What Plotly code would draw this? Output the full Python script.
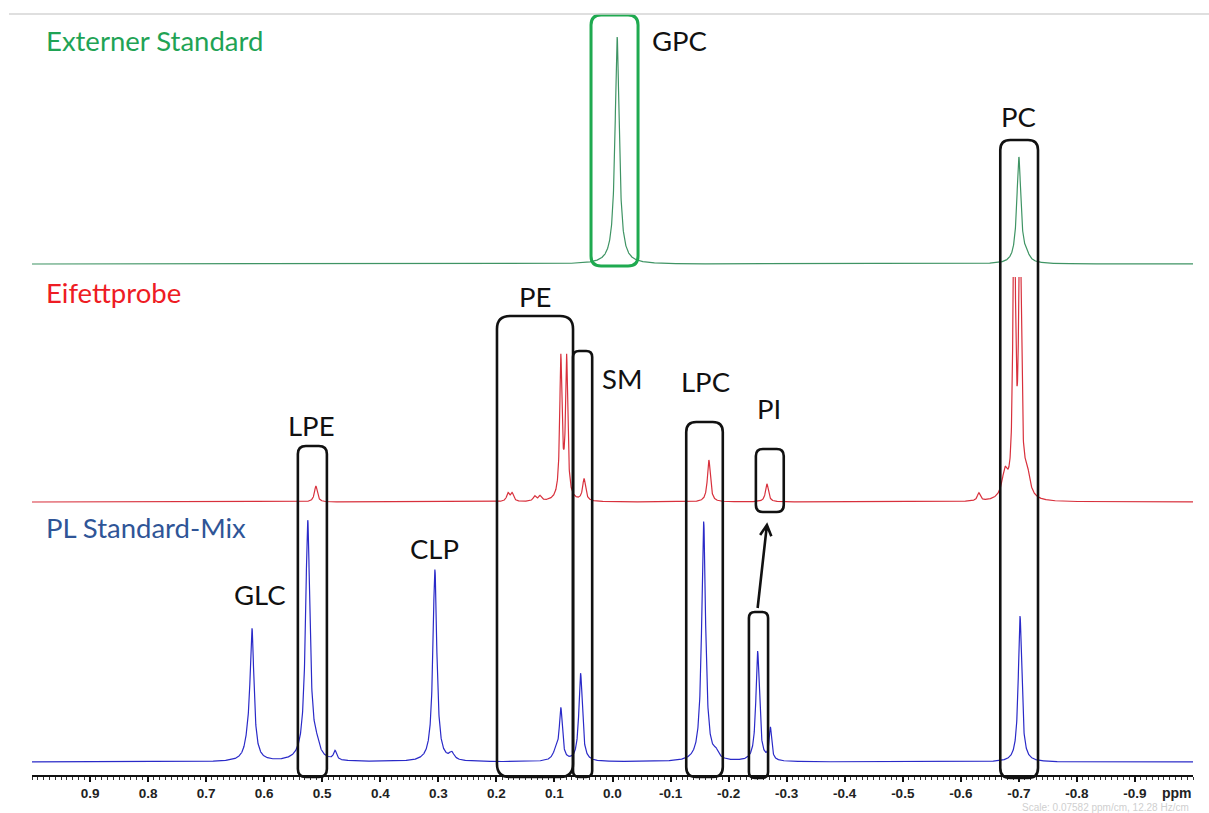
import numpy as np
import plotly.graph_objects as go

# ---------------------------------------------------------------------------
# Axis
# ---------------------------------------------------------------------------
PPM_MAX, PPM_MIN = 1.0, -1.0          # chemical shift runs high -> low
Y_MAX = 775                           # intensity range of the stacked plot
TICK_VALUES = [0.9, 0.8, 0.7, 0.6, 0.5, 0.4, 0.3, 0.2, 0.1, 0.0,
               -0.1, -0.2, -0.3, -0.4, -0.5, -0.6, -0.7, -0.8, -0.9]
TICK_LABELS = ["0.9", "0.8", "0.7", "0.6", "0.5", "0.4", "0.3", "0.2", "0.1", "0.0",
               "-0.1", "-0.2", "-0.3", "-0.4", "-0.5", "-0.6", "-0.7", "-0.8", "-0.9"]

# ---------------------------------------------------------------------------
# Spectra: baseline offset + peak list (position ppm, height, half width ppm)
# ---------------------------------------------------------------------------
STANDARD_OFFSET = 511
STANDARD_PPM = [-0.008, -0.008, -0.700, -0.713]
STANDARD_HEIGHT = [221, 6, 106, 6]
STANDARD_HWHM = [0.0042, 0.012, 0.0042, 0.006]

SAMPLE_OFFSET = 273
SAMPLE_CEILING = 225                  # display ceiling above the sample baseline
SAMPLE_PPM = [0.511, 0.180, 0.173, 0.134, 0.125,
              0.089, 0.079, 0.084, 0.049,
              -0.166, -0.266, -0.631,
              -0.692, -0.702, -0.676, -0.714]
SAMPLE_HEIGHT = [16, 8, 8, 5, 5,
                 136, 136, 8, 22,
                 42, 18, 8,
                 371, 371, 26, 24]
SAMPLE_HWHM = [0.003, 0.003, 0.003, 0.003, 0.003,
               0.0022, 0.0022, 0.008, 0.003,
               0.003, 0.003, 0.003,
               0.0021, 0.0021, 0.006, 0.006]

MIX_OFFSET = 13
MIX_PPM = [0.621, 0.628, 0.525, 0.510, 0.478,
           0.306, 0.277, 0.097, 0.089, 0.055,
           -0.157, -0.178, -0.250, -0.272, -0.702]
MIX_HEIGHT = [128, 12, 240, 10, 9,
              192, 7, 10, 50, 88,
              240, 6, 110, 32, 146]
MIX_HWHM = [0.0040, 0.006, 0.0045, 0.006, 0.003,
            0.0040, 0.005, 0.006, 0.003, 0.0035,
            0.0040, 0.005, 0.0035, 0.0025, 0.0035]

# ---------------------------------------------------------------------------
# Text labels and highlight boxes
# ---------------------------------------------------------------------------
SERIES_NAMES = ["Externer Standard", "Eifettprobe", "PL Standard-Mix"]
SERIES_LABEL_Y = [735, 483, 248]
SERIES_LABEL_PPM = 0.980

PEAK_NAMES = ["GPC", "PC", "PE", "SM", "LPE", "LPC", "PI", "CLP", "GLC"]
PEAK_NAME_PPM = [-0.116, -0.700, 0.134, -0.016, 0.518, -0.161, -0.270, 0.306, 0.607]
PEAK_NAME_Y = [735, 659, 479, 397, 350, 394, 367, 227, 181]

# box: left ppm, right ppm, bottom, top
BOX_LEFT = [0.037, -0.668, 0.199, 0.068, 0.542, -0.127, -0.247, -0.235]
BOX_RIGHT = [-0.044, -0.733, 0.068, 0.035, 0.492, -0.190, -0.295, -0.268]
BOX_BOTTOM = [509, -3, -2, -2, -2, -2, 263, -3]
BOX_TOP = [760, 635, 459, 424, 329, 353, 326, 163]
BOX_COLOR = ["#1faa50"] + ["#111111"] * 7
BOX_RADIUS_PX = [10, 10, 13, 6, 8, 10, 7, 6]

ARROW_FROM = (-0.250, 167)
ARROW_TO = (-0.266, 250)

COLORS = {"standard": "#3f9464", "sample": "#d8303c", "mix": "#2a2ac8"}
LABEL_COLORS = ["#1fa355", "#ee1c24", "#2f5597"]

# ---------------------------------------------------------------------------
ppm = np.arange(PPM_MAX, PPM_MIN - 1e-9, -0.00025)


def spectrum(offset, centers, heights, widths):
    y = np.full_like(ppm, float(offset))
    for c, h, w in zip(centers, heights, widths):
        y += h / (1.0 + ((ppm - c) / w) ** 2)
    return y


def clip_top(y, ceiling):
    over = y > ceiling
    out = np.where(over, ceiling, y)
    # keep only the edges of each clipped run so the trace stops at the ceiling
    inner = over & np.roll(over, 1) & np.roll(over, -1)
    out[inner] = np.nan
    return out


y_standard = spectrum(STANDARD_OFFSET, STANDARD_PPM, STANDARD_HEIGHT, STANDARD_HWHM)
y_sample = clip_top(spectrum(SAMPLE_OFFSET, SAMPLE_PPM, SAMPLE_HEIGHT, SAMPLE_HWHM),
                    SAMPLE_OFFSET + SAMPLE_CEILING)
y_mix = spectrum(MIX_OFFSET, MIX_PPM, MIX_HEIGHT, MIX_HWHM)

fig = go.Figure()
for name, y, key in [("Externer Standard", y_standard, "standard"),
                     ("Eifettprobe", y_sample, "sample"),
                     ("PL Standard-Mix", y_mix, "mix")]:
    fig.add_trace(go.Scatter(x=ppm, y=y, mode="lines", name=name,
                             line=dict(color=COLORS[key], width=1.2),
                             connectgaps=False, hoverinfo="skip"))

W, H = 1209, 813
M_L, M_R, M_T, M_B = 32, 16, 0, 38
PLOT_W = W - M_L - M_R
PLOT_H = H - M_T - M_B


def paper_x(p):
    return (PPM_MAX - p) / (PPM_MAX - PPM_MIN)


def paper_y(v):
    return v / Y_MAX


shapes = []
for l, r, b, t, col, rad in zip(BOX_LEFT, BOX_RIGHT, BOX_BOTTOM, BOX_TOP, BOX_COLOR, BOX_RADIUS_PX):
    x0, x1 = paper_x(l), paper_x(r)
    y0, y1 = paper_y(b), paper_y(t)
    rx, ry = rad / PLOT_W, rad / PLOT_H
    path = (f"M {x0 + rx},{y1} L {x1 - rx},{y1} Q {x1},{y1} {x1},{y1 - ry} "
            f"L {x1},{y0 + ry} Q {x1},{y0} {x1 - rx},{y0} "
            f"L {x0 + rx},{y0} Q {x0},{y0} {x0},{y0 + ry} "
            f"L {x0},{y1 - ry} Q {x0},{y1} {x0 + rx},{y1} Z")
    shapes.append(dict(type="path", path=path, xref="paper", yref="paper",
                       line=dict(color=col, width=3 if col != "#111111" else 2.6)))

# arrow from the mix PI peak to the sample PI peak
ax0, ay0 = paper_x(ARROW_FROM[0]) * PLOT_W, paper_y(ARROW_FROM[1]) * PLOT_H
ax1, ay1 = paper_x(ARROW_TO[0]) * PLOT_W, paper_y(ARROW_TO[1]) * PLOT_H
d = np.array([ax1 - ax0, ay1 - ay0])
d /= np.linalg.norm(d)
head = []
for ang in (np.radians(28), -np.radians(28)):
    rot = np.array([[np.cos(ang), -np.sin(ang)], [np.sin(ang), np.cos(ang)]])
    v = rot @ (-d) * 12
    head.append((ax1 + v[0], ay1 + v[1]))
arrow_path = (f"M {ax0 / PLOT_W},{ay0 / PLOT_H} L {ax1 / PLOT_W},{ay1 / PLOT_H} "
              f"M {head[0][0] / PLOT_W},{head[0][1] / PLOT_H} L {ax1 / PLOT_W},{ay1 / PLOT_H} "
              f"L {head[1][0] / PLOT_W},{head[1][1] / PLOT_H}")
shapes.append(dict(type="path", path=arrow_path, xref="paper", yref="paper",
                   line=dict(color="#111111", width=2.6)))

# thin rule along the top of the page
shapes.append(dict(type="line", xref="paper", yref="paper",
                   x0=(9 - M_L) / PLOT_W, x1=(W - M_L) / PLOT_W,
                   y0=(PLOT_H - 14) / PLOT_H, y1=(PLOT_H - 14) / PLOT_H,
                   line=dict(color="#d4d4d4", width=1.5)))

LABEL_FONT = "Lato, Calibri, sans-serif"
annotations = []
for name, y, col in zip(SERIES_NAMES, SERIES_LABEL_Y, LABEL_COLORS):
    annotations.append(dict(x=SERIES_LABEL_PPM, y=y, xref="x", yref="y", text=name,
                            showarrow=False, xanchor="left", yanchor="middle",
                            font=dict(family=LABEL_FONT, size=27.5, color=col)))
for name, x, y in zip(PEAK_NAMES, PEAK_NAME_PPM, PEAK_NAME_Y):
    annotations.append(dict(x=x, y=y, xref="x", yref="y", text=name,
                            showarrow=False, xanchor="center", yanchor="middle",
                            font=dict(family=LABEL_FONT, size=27.5, color="#111111")))
annotations.append(dict(x=(1177 - M_L) / PLOT_W, y=-18 / PLOT_H, xref="paper", yref="paper",
                        text="ppm", showarrow=False, xanchor="center", yanchor="middle",
                        font=dict(family="Liberation Sans, Arial", size=14,
                                  color="#222222", weight="bold")))
annotations.append(dict(x=(1191 - M_L) / PLOT_W, y=-32 / PLOT_H, xref="paper", yref="paper",
                        text="Scale: 0.07582 ppm/cm, 12.28 Hz/cm", showarrow=False,
                        xanchor="right", yanchor="middle",
                        font=dict(family="Liberation Sans, Arial", size=10, color="#cfcfcf")))

fig.update_layout(
    width=W, height=H,
    margin=dict(l=M_L, r=M_R, t=M_T, b=M_B),
    paper_bgcolor="white", plot_bgcolor="white",
    showlegend=False,
    shapes=shapes,
    annotations=annotations,
    xaxis=dict(range=[PPM_MAX, PPM_MIN], tickvals=TICK_VALUES, ticktext=TICK_LABELS,
               showline=True, linecolor="#111111", linewidth=2,
               ticks="outside", ticklen=5, tickwidth=1.5, tickcolor="#111111",
               ticklabelstandoff=0,
               minor=dict(dtick=0.01, ticks="outside", ticklen=3, tickwidth=1,
                          tickcolor="#333333", showgrid=False),
               showgrid=False, zeroline=False, fixedrange=True,
               tickfont=dict(family="Liberation Sans, Arial", size=13.5,
                             color="#222222", weight="bold")),
    yaxis=dict(range=[0, Y_MAX], visible=False, fixedrange=True),
)

fig.write_html("out.html")
